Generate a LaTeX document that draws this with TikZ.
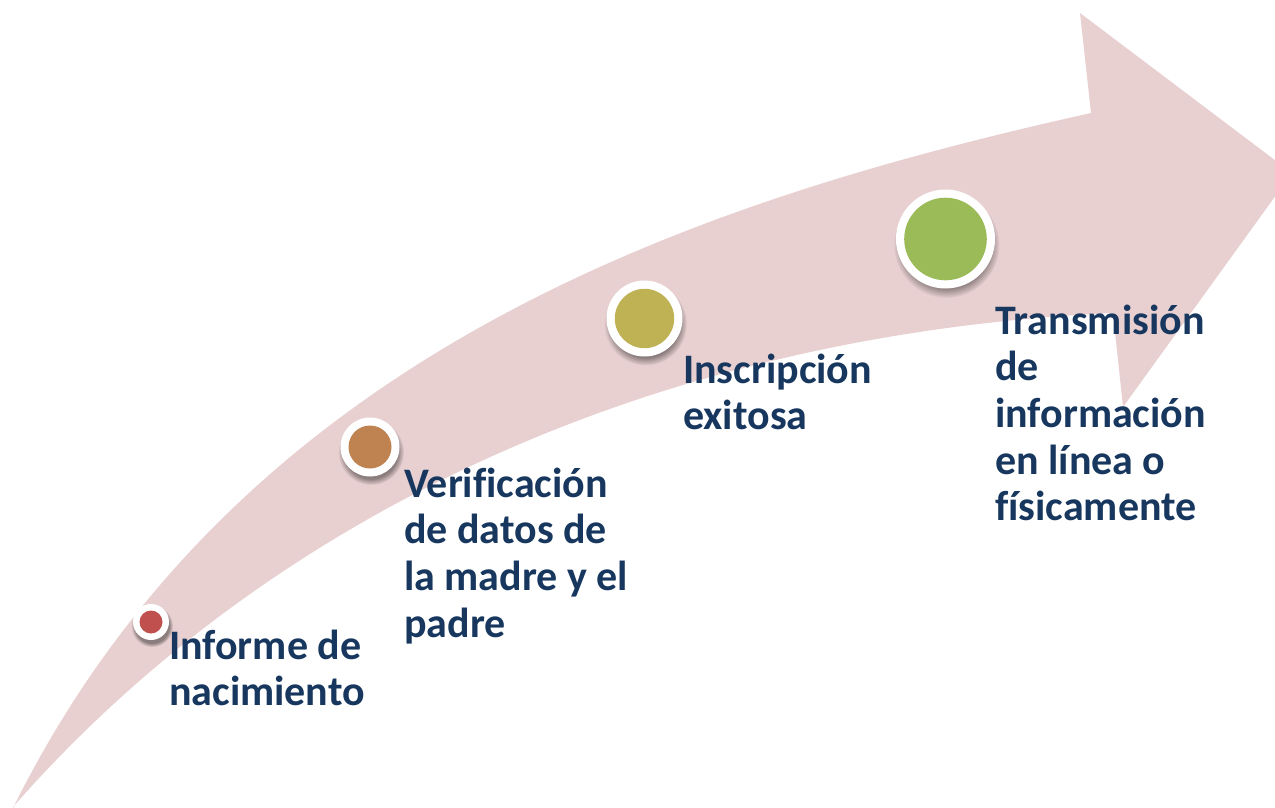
\documentclass[tikz,border=0pt]{standalone}
\usepackage{fontspec}
\setmainfont{Carlito}[Ligatures=NoCommon]
\usetikzlibrary{fadings}
\definecolor{band}{RGB}{232,208,209}
\definecolor{navy}{RGB}{23,55,94}
\definecolor{cred}{RGB}{192,80,77}
\definecolor{corange}{RGB}{190,131,80}
\definecolor{colive}{RGB}{191,178,85}
\definecolor{cgreen}{RGB}{155,187,89}
\newcommand\lns[1]{\begin{tabular}[t]{@{}l@{}}#1\end{tabular}}
\begin{document}
\begin{tikzpicture}[x=1pt,y=-1pt,
  lbl/.style={anchor=base west, inner sep=0, text=navy, font=\fontsize{42}{46.7}\selectfont\bfseries},
  ring/.style={circle, fill=white, inner sep=0},
  dot/.style={circle, inner sep=0},
  shade/.style={black, opacity=.4, path fading=circle with fuzzy edge 20 percent}]
\clip (0,0) rectangle (1275,808);
% arrow
\fill[band] (13,808) .. controls (240,350) and (700,200) .. (1091,113)
  -- (1080,13) -- (1292,173) -- (1123,407) -- (1113,313)
  .. controls (640,335) and (260,525) .. (13,807) -- cycle;
% shadows
\fill[shade] (152,626) circle (21);
\fill[shade] (371,452) circle (33);
\fill[shade] (645.5,324) circle (41.5);
\fill[shade] (946.5,245) circle (53);
% circles
\node[ring, minimum size=36pt] (r1) at (151,622) {};
\node[dot, fill=cred, minimum size=23pt] (c1) at (r1) {};
\node[ring, minimum size=59pt] (r2) at (370,447) {};
\node[dot, fill=corange, minimum size=43pt] (c2) at (r2) {};
\node[ring, minimum size=76pt] (r3) at (644.5,318.5) {};
\node[dot, fill=colive, minimum size=59.4pt] (c3) at (r3) {};
\node[ring, minimum size=99pt] (r4) at (945.5,239) {};
\node[dot, fill=cgreen, minimum size=82.6pt] (c4) at (r4) {};
% labels
\node[lbl] (t1) at (169,659) {\lns{Informe de\\nacimiento}};
\node[lbl] (t2) at (404,497) {\lns{Verificación\\de datos de\\la madre y el\\padre}};
\node[lbl] (t3) at (683,383) {\lns{Inscripción\\exitosa}};
\node[lbl] (t4) at (995,334) {\lns{Transmisión\\de\\información\\en línea o\\físicamente}};
\end{tikzpicture}
\end{document}
